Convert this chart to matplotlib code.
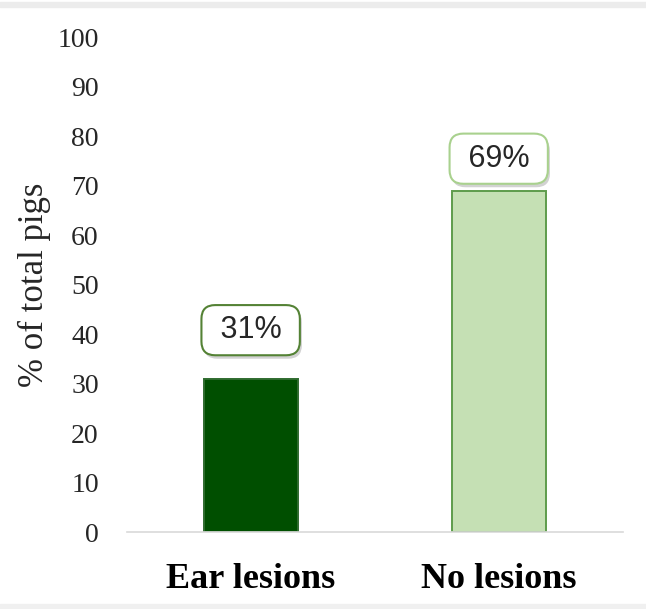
import matplotlib
matplotlib.use("Agg")
import matplotlib.pyplot as plt
import matplotlib.patheffects as pe
from matplotlib.patches import Rectangle

# Data
categories = ["Ear lesions", "No lesions"]
values = [31, 69]
bar_colors = ["#004f00", "#c5e0b4"]
bar_edges = ["#2f6b2f", "#5e9c4c"]
box_edges = ["#548235", "#a9d18e"]
label_offsets = [35, 23]  # points above bar top
yticks = list(range(0, 101, 10))

fig = plt.figure(figsize=(6.46, 6.09), dpi=100)
ax = fig.add_axes([0.196, 0.126, 0.768, 0.813])

x = range(len(categories))
ax.bar(x, values, width=0.38, color=bar_colors, edgecolor=bar_edges, linewidth=1.4, zorder=2)

ax.set_xlim(-0.5, 1.5)
ax.set_ylim(0, 100)
ax.set_yticks(yticks)
ax.set_yticklabels([str(v) for v in yticks], fontfamily="Liberation Serif",
                   fontsize=20, color="#262626")
ax.set_xticks(list(x))
ax.set_xticklabels(categories, fontfamily="Liberation Serif", fontsize=26,
                   fontweight="bold", color="black")
ax.tick_params(axis="y", length=0, pad=20)
ax.tick_params(axis="x", length=0, pad=22)

for side in ["top", "right", "left"]:
    ax.spines[side].set_visible(False)
ax.spines["bottom"].set_color("#d9d9d9")
ax.spines["bottom"].set_linewidth(1.2)

ax.set_ylabel("% of total pigs", fontfamily="Liberation Serif", fontsize=25,
              color="#262626", labelpad=5)

# value labels in rounded boxes with a soft shadow
for i, v in enumerate(values):
    t = ax.annotate(f" {v}% ", xy=(i, v), xytext=(0, label_offsets[i]),
                    textcoords="offset points", ha="center", va="center",
                    fontfamily="Liberation Sans", fontsize=22, color="#262626",
                    bbox=dict(boxstyle="round,pad=0.33,rounding_size=0.45",
                              fc="white", ec=box_edges[i], lw=1.5),
                    zorder=3)
    t.get_bbox_patch().set_path_effects([
        pe.SimplePatchShadow(offset=(1.5, -2.5), shadow_rgbFace="#7f7f7f", alpha=0.35),
        pe.Normal(),
    ])

# thin grey bands at the top and bottom edge
fig.patches.append(Rectangle((0, 0.988), 1, 0.008, transform=fig.transFigure,
                             color="#ececec", zorder=0))
fig.patches.append(Rectangle((0, 0.0), 1, 0.008, transform=fig.transFigure,
                             color="#f0f0f0", zorder=0))

fig.savefig("out.png", dpi=100)
